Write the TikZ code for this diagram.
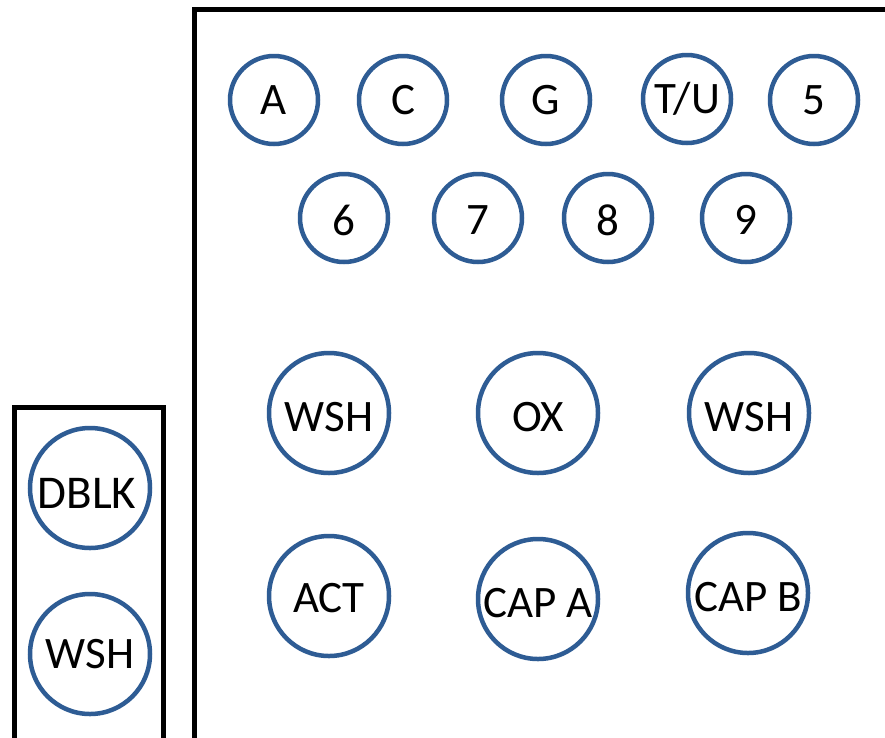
\documentclass[tikz,border=0pt]{standalone}
\usepackage{fontspec}
\setmainfont{Carlito}
\definecolor{pinblue}{RGB}{46,92,148}
\newcommand{\dnshift}[2]{\raisebox{-#1}[\height][\depth]{#2}}
\begin{document}
\begin{tikzpicture}[x=1pt,y=-1pt,
  pin/.style={circle, draw=pinblue, line width=4.5pt, inner sep=0pt, text=black,
              font=\fontsize{45}{54}\selectfont},
  smallpin/.style={pin, minimum size=88pt},
  bigpin/.style={pin, minimum size=120pt},
  frame/.style={draw=black, line width=5pt}]
\clip (0,0) rectangle (885,737);
\fill[white] (0,0) rectangle (885,737);
% frames
\draw[frame] (194,9) rectangle (920,780);
\draw[frame] (14,407) rectangle (163,780);
% row 1
\node[smallpin] (a)  at (274,100) {A};
\node[smallpin] (c)  at (403,100) {C};
\node[smallpin] (g)  at (546,100) {G};
\node[smallpin] (tu) at (687,99)  {T/U};
\node[smallpin] (p5) at (814,100) {5};
% row 2
\node[smallpin] (p6) at (344,218) {\dnshift{2pt}{6}};
\node[smallpin] (p7) at (478,218) {\dnshift{2pt}{7}};
\node[smallpin] (p8) at (608,218) {\dnshift{2pt}{8}};
\node[smallpin] (p9) at (746,218) {\dnshift{2pt}{9}};
% row 3
\node[bigpin] (wsha) at (329,413) {\dnshift{4pt}{WSH}};
\node[bigpin] (ox)   at (538,413) {\dnshift{4pt}{OX}};
\node[bigpin] (wshb) at (749,413) {\dnshift{4pt}{WSH}};
% row 4
\node[bigpin] (act)  at (329,596) {\dnshift{2pt}{ACT}};
\node[bigpin] (capa) at (538,599) {\dnshift{4pt}{CAP A}};
\node[bigpin] (capb) at (748,593) {\dnshift{4pt}{CAP B}};
% left box
\node[bigpin, font=\fontsize{47}{56}\selectfont] (dblk) at (90,488)
  {\dnshift{5pt}{\hspace*{-3pt}DBLK\hspace*{3pt}}};
\node[bigpin] (wshc) at (90,654) {WSH};
\end{tikzpicture}
\end{document}
